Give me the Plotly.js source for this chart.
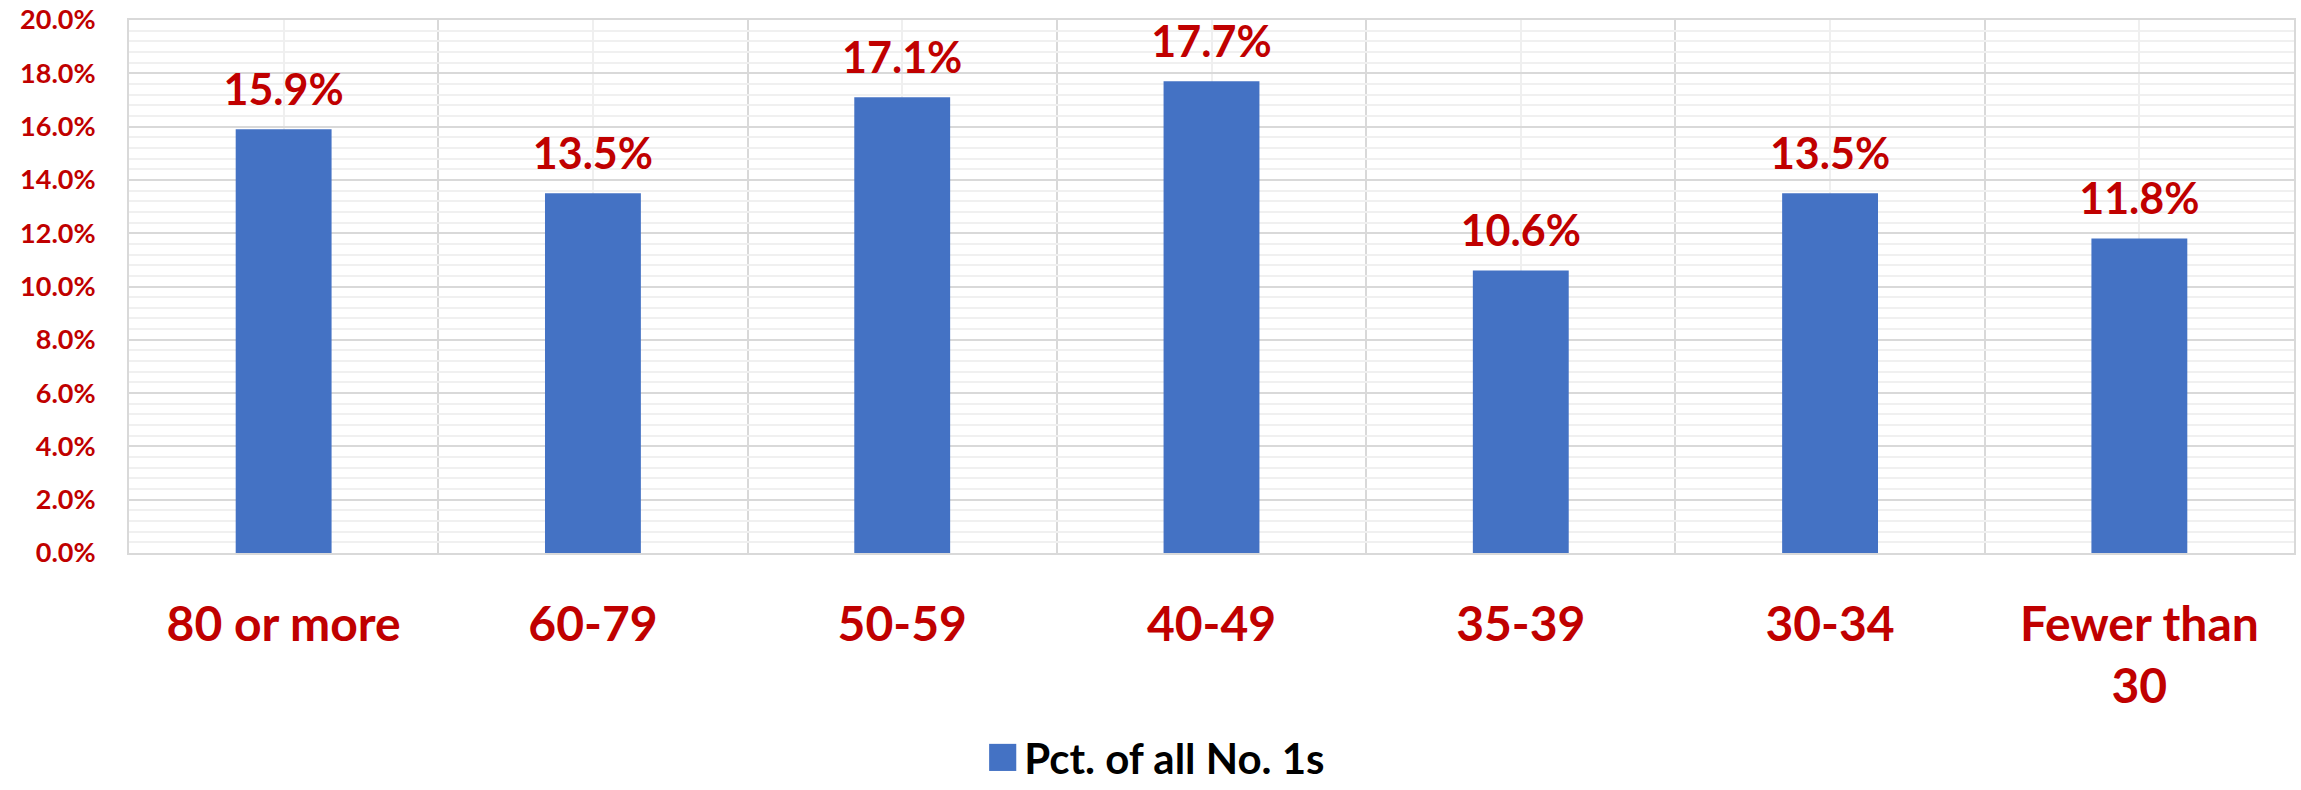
<!DOCTYPE html>
<html>
<head>
<meta charset="utf-8">
<script src="https://cdn.plot.ly/plotly-3.0.1.min.js"></script>
<style>
  html, body { margin: 0; padding: 0; background: #ffffff; }
  #chart { width: 2301px; height: 790px; }
</style>
</head>
<body>
<div id="chart"></div>
<script>
// ---- data ----
const categories = ["80 or more", "60-79", "50-59", "40-49", "35-39", "30-34", "Fewer than<br>30"];
const pctOfAllNo1s = [0.159, 0.135, 0.171, 0.177, 0.106, 0.135, 0.118];
const seriesName = "Pct. of all No. 1s";
const yTickFormat = ".1%";

// ---- styles ----
const RED = "#C00000";
const BLUE = "#4472C4";
const FONT = "Lato, 'Open Sans', sans-serif";

const idx = categories.map((c, i) => i);

const bars = {
  type: "bar",
  x: idx,
  y: pctOfAllNo1s,
  name: seriesName,
  width: 0.31,
  marker: { color: BLUE },
  hoverinfo: "skip",
  showlegend: false
};

const labels = {
  type: "scatter",
  mode: "markers+text",
  x: idx,
  y: pctOfAllNo1s,
  texttemplate: "%{y:.1%}",
  textposition: "top center",
  textfont: { family: FONT, size: 43, color: RED, weight: "bold" },
  marker: { color: "rgba(0,0,0,0)", size: 20 },
  hoverinfo: "skip",
  showlegend: false,
  cliponaxis: false
};

const layout = {
  width: 2301,
  height: 790,
  margin: { l: 129, r: 7, t: 20, b: 237 },
  paper_bgcolor: "#ffffff",
  plot_bgcolor: "#ffffff",
  font: { family: FONT, weight: "bold", color: RED },
  showlegend: false,
  xaxis: {
    type: "linear",
    range: [-0.5, categories.length - 0.5],
    tickmode: "array",
    tickvals: idx,
    ticktext: categories,
    showgrid: true,
    gridcolor: "#efefef",
    gridwidth: 2,
    minor: { tickmode: "linear", tick0: -0.5, dtick: 1, showgrid: true, gridcolor: "#d9d9d9", gridwidth: 2 },
    zeroline: false,
    showline: true,
    linecolor: "#d9d9d9",
    linewidth: 2,
    mirror: true,
    ticks: "",
    ticklabelstandoff: 28,
    tickfont: { family: FONT, size: 48, color: RED, weight: "bold" },
    fixedrange: true
  },
  yaxis: {
    range: [0, 0.2],
    tickmode: "linear",
    tick0: 0,
    dtick: 0.02,
    tickformat: yTickFormat,
    showgrid: true,
    gridcolor: "#d9d9d9",
    gridwidth: 2,
    minor: { tickmode: "linear", tick0: 0, dtick: 0.004, showgrid: true, gridcolor: "#f0f0f0", gridwidth: 2 },
    zeroline: false,
    showline: true,
    linecolor: "#d9d9d9",
    linewidth: 2,
    mirror: true,
    ticks: "",
    ticklabelstandoff: 26,
    tickfont: { family: FONT, size: 27, color: RED, weight: "bold" },
    fixedrange: true
  },
  annotations: [{
    xref: "paper", yref: "paper",
    x: 0.474, y: -0.375,
    xanchor: "center", yanchor: "middle",
    showarrow: false,
    text: '<span style="color:' + BLUE + ';font-size:56px">\u25A0</span><span style="font-size:18px"> </span>' + seriesName,
    font: { family: FONT, size: 42, color: "#000000", weight: "bold" }
  }]
};

Plotly.newPlot("chart", [bars, labels], layout, { displayModeBar: false, staticPlot: true });
</script>
</body>
</html>
